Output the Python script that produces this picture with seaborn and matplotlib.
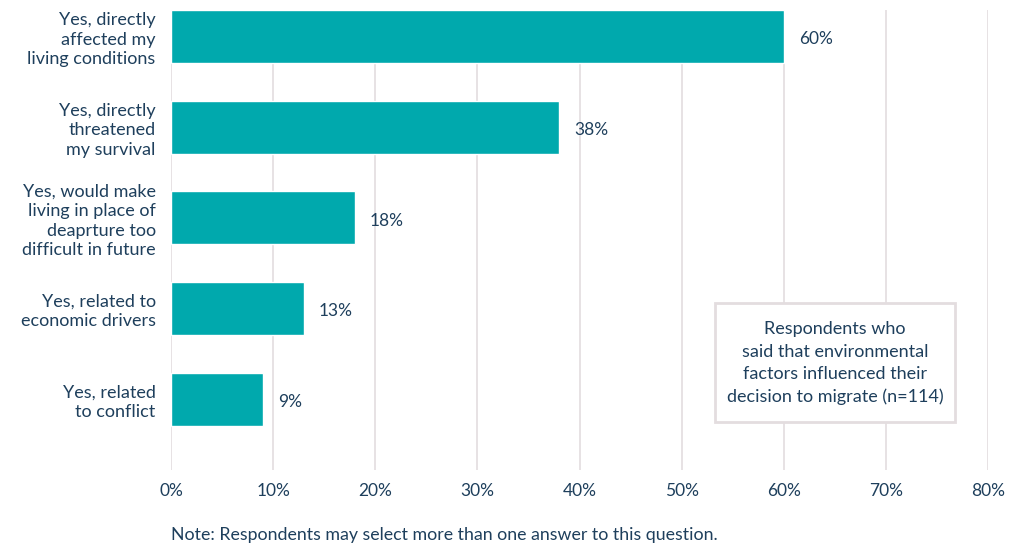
import matplotlib
matplotlib.use("Agg")
import matplotlib.pyplot as plt
import seaborn as sns
import pandas as pd
from matplotlib.patches import Rectangle
from matplotlib.ticker import FuncFormatter, MultipleLocator

categories = [
    "Yes, directly\naffected my\nliving conditions",
    "Yes, directly\nthreatened\nmy survival",
    "Yes, would make\nliving in place of\ndeaprture too\ndifficult in future",
    "Yes, related to\neconomic drivers",
    "Yes, related\nto conflict",
]
values = [60, 38, 18, 13, 9]
box_text = "Respondents who\nsaid that environmental\nfactors influenced their\ndecision to migrate (n=114)"
note_text = "Note: Respondents may select more than one answer to this question."

BAR = "#00a9ad"
TEXT = "#1e3f5c"
GRID = "#e3dddf"

W, H = 1025, 545

sns.set_theme(style="white")
plt.rcParams["font.family"] = ["Lato", "DejaVu Sans"]

df = pd.DataFrame({"answer": categories, "share": values})

fig = plt.figure(figsize=(W / 100, H / 100), dpi=100)
ax = fig.add_axes([171 / W, 1 - 470 / H, (988 - 171) / W, 460 / H])

sns.barplot(data=df, x="share", y="answer", color=BAR, width=0.585,
            saturation=1, ax=ax, zorder=3)

ax.set_xlim(0, 80)
ax.set_ylim(4.78, -0.29)
ax.xaxis.set_major_locator(MultipleLocator(10))
ax.xaxis.set_major_formatter(FuncFormatter(lambda v, _: f"{v:.0f}%"))
ax.grid(axis="x", color=GRID, linewidth=1.2, zorder=0)
ax.grid(axis="y", visible=False)
for s in ax.spines.values():
    s.set_visible(False)
ax.set_xlabel("")
ax.set_ylabel("")
ax.tick_params(axis="x", length=0, pad=9, labelsize=12.5, labelcolor=TEXT)
ax.tick_params(axis="y", length=0, pad=11, labelsize=13, labelcolor=TEXT)
for lbl in ax.get_yticklabels():
    lbl.set_horizontalalignment("right")
    lbl.set_multialignment("right")
    lbl.set_linespacing(1.26)

for i, v in enumerate(values):
    ax.annotate(f"{v}%", xy=(v, i), xytext=(11, -2), textcoords="offset points",
                ha="left", va="center", fontsize=12.5, color=TEXT)

# framed annotation box on the right
fig.add_artist(Rectangle((715 / W, 1 - 422 / H), 240 / W, 119 / H,
                         transform=fig.transFigure, facecolor="white",
                         edgecolor=GRID, linewidth=2, zorder=5))
fig.text(835 / W, 1 - 363 / H, box_text, ha="center", va="center",
         fontsize=13, color=TEXT, linespacing=1.47, zorder=6)

fig.text(171 / W, 1 - 535 / H, note_text, ha="left", va="center",
         fontsize=12.8, color=TEXT)

fig.savefig("out.png", dpi=100, facecolor="white")
